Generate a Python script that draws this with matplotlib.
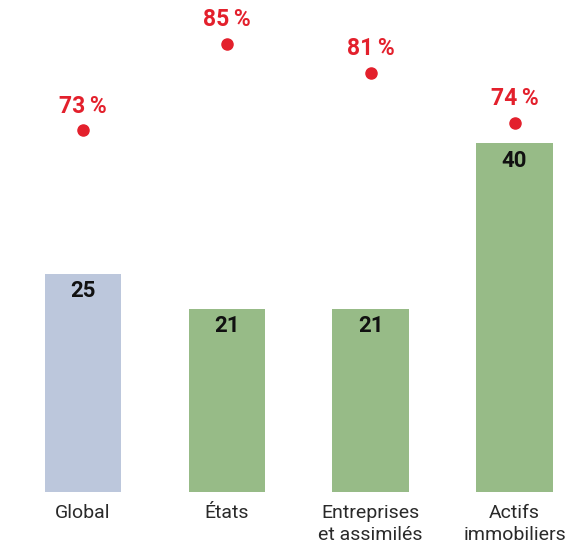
import matplotlib.pyplot as plt

plt.rcParams['font.family'] = ['Roboto', 'DejaVu Sans']

categories = ["Global", "États", "Entreprises\net assimilés", "Actifs\nimmobiliers"]
counts = [25, 21, 21, 40]
shares = [73, 85, 81, 74]
bar_colors = ["#bcc7dc", "#97bb87", "#97bb87", "#97bb87"]
red = "#e3202c"

fig = plt.figure(figsize=(5.8, 5.49), dpi=100)
base = 57 / 549
ax = fig.add_axes([0, base, 1, 1 - base])
x = range(len(categories))
ax.bar(x, counts, width=0.53, color=bar_colors)
ax.set_xlim(-0.575, 3.455)
ax.set_ylim(0, 492 / 8.72)

for i, v in enumerate(counts):
    ax.annotate(str(v), (i, v), xytext=(0, -12.5), textcoords="offset points",
                ha="center", va="center", fontsize=16, fontweight="bold", color="#111111")

ax.set_xticks(list(x))
ax.set_xticklabels(categories, fontsize=14, fontweight="normal", color="#2a2a2a",
                   linespacing=1.25, va="top")
ax.tick_params(axis="x", length=0, pad=9)
ax.set_yticks([])
for s in ax.spines.values():
    s.set_visible(False)

# percentages on a separate scale
ax2 = ax.twinx()
ax2.set_ylim((656 - 492) / 7.2, 656 / 7.2)
ax2.plot(list(x), shares, "o", color=red, markersize=8, linestyle="none")
for i, p in enumerate(shares):
    ax2.annotate(f"{p}\u2009%", (i, p), xytext=(0, 17.5), textcoords="offset points",
                 ha="center", va="center", fontsize=16.5, fontweight="bold", color=red)
ax2.set_yticks([])
for s in ax2.spines.values():
    s.set_visible(False)
ax.patch.set_visible(False)

fig.savefig("out.png", dpi=100)
